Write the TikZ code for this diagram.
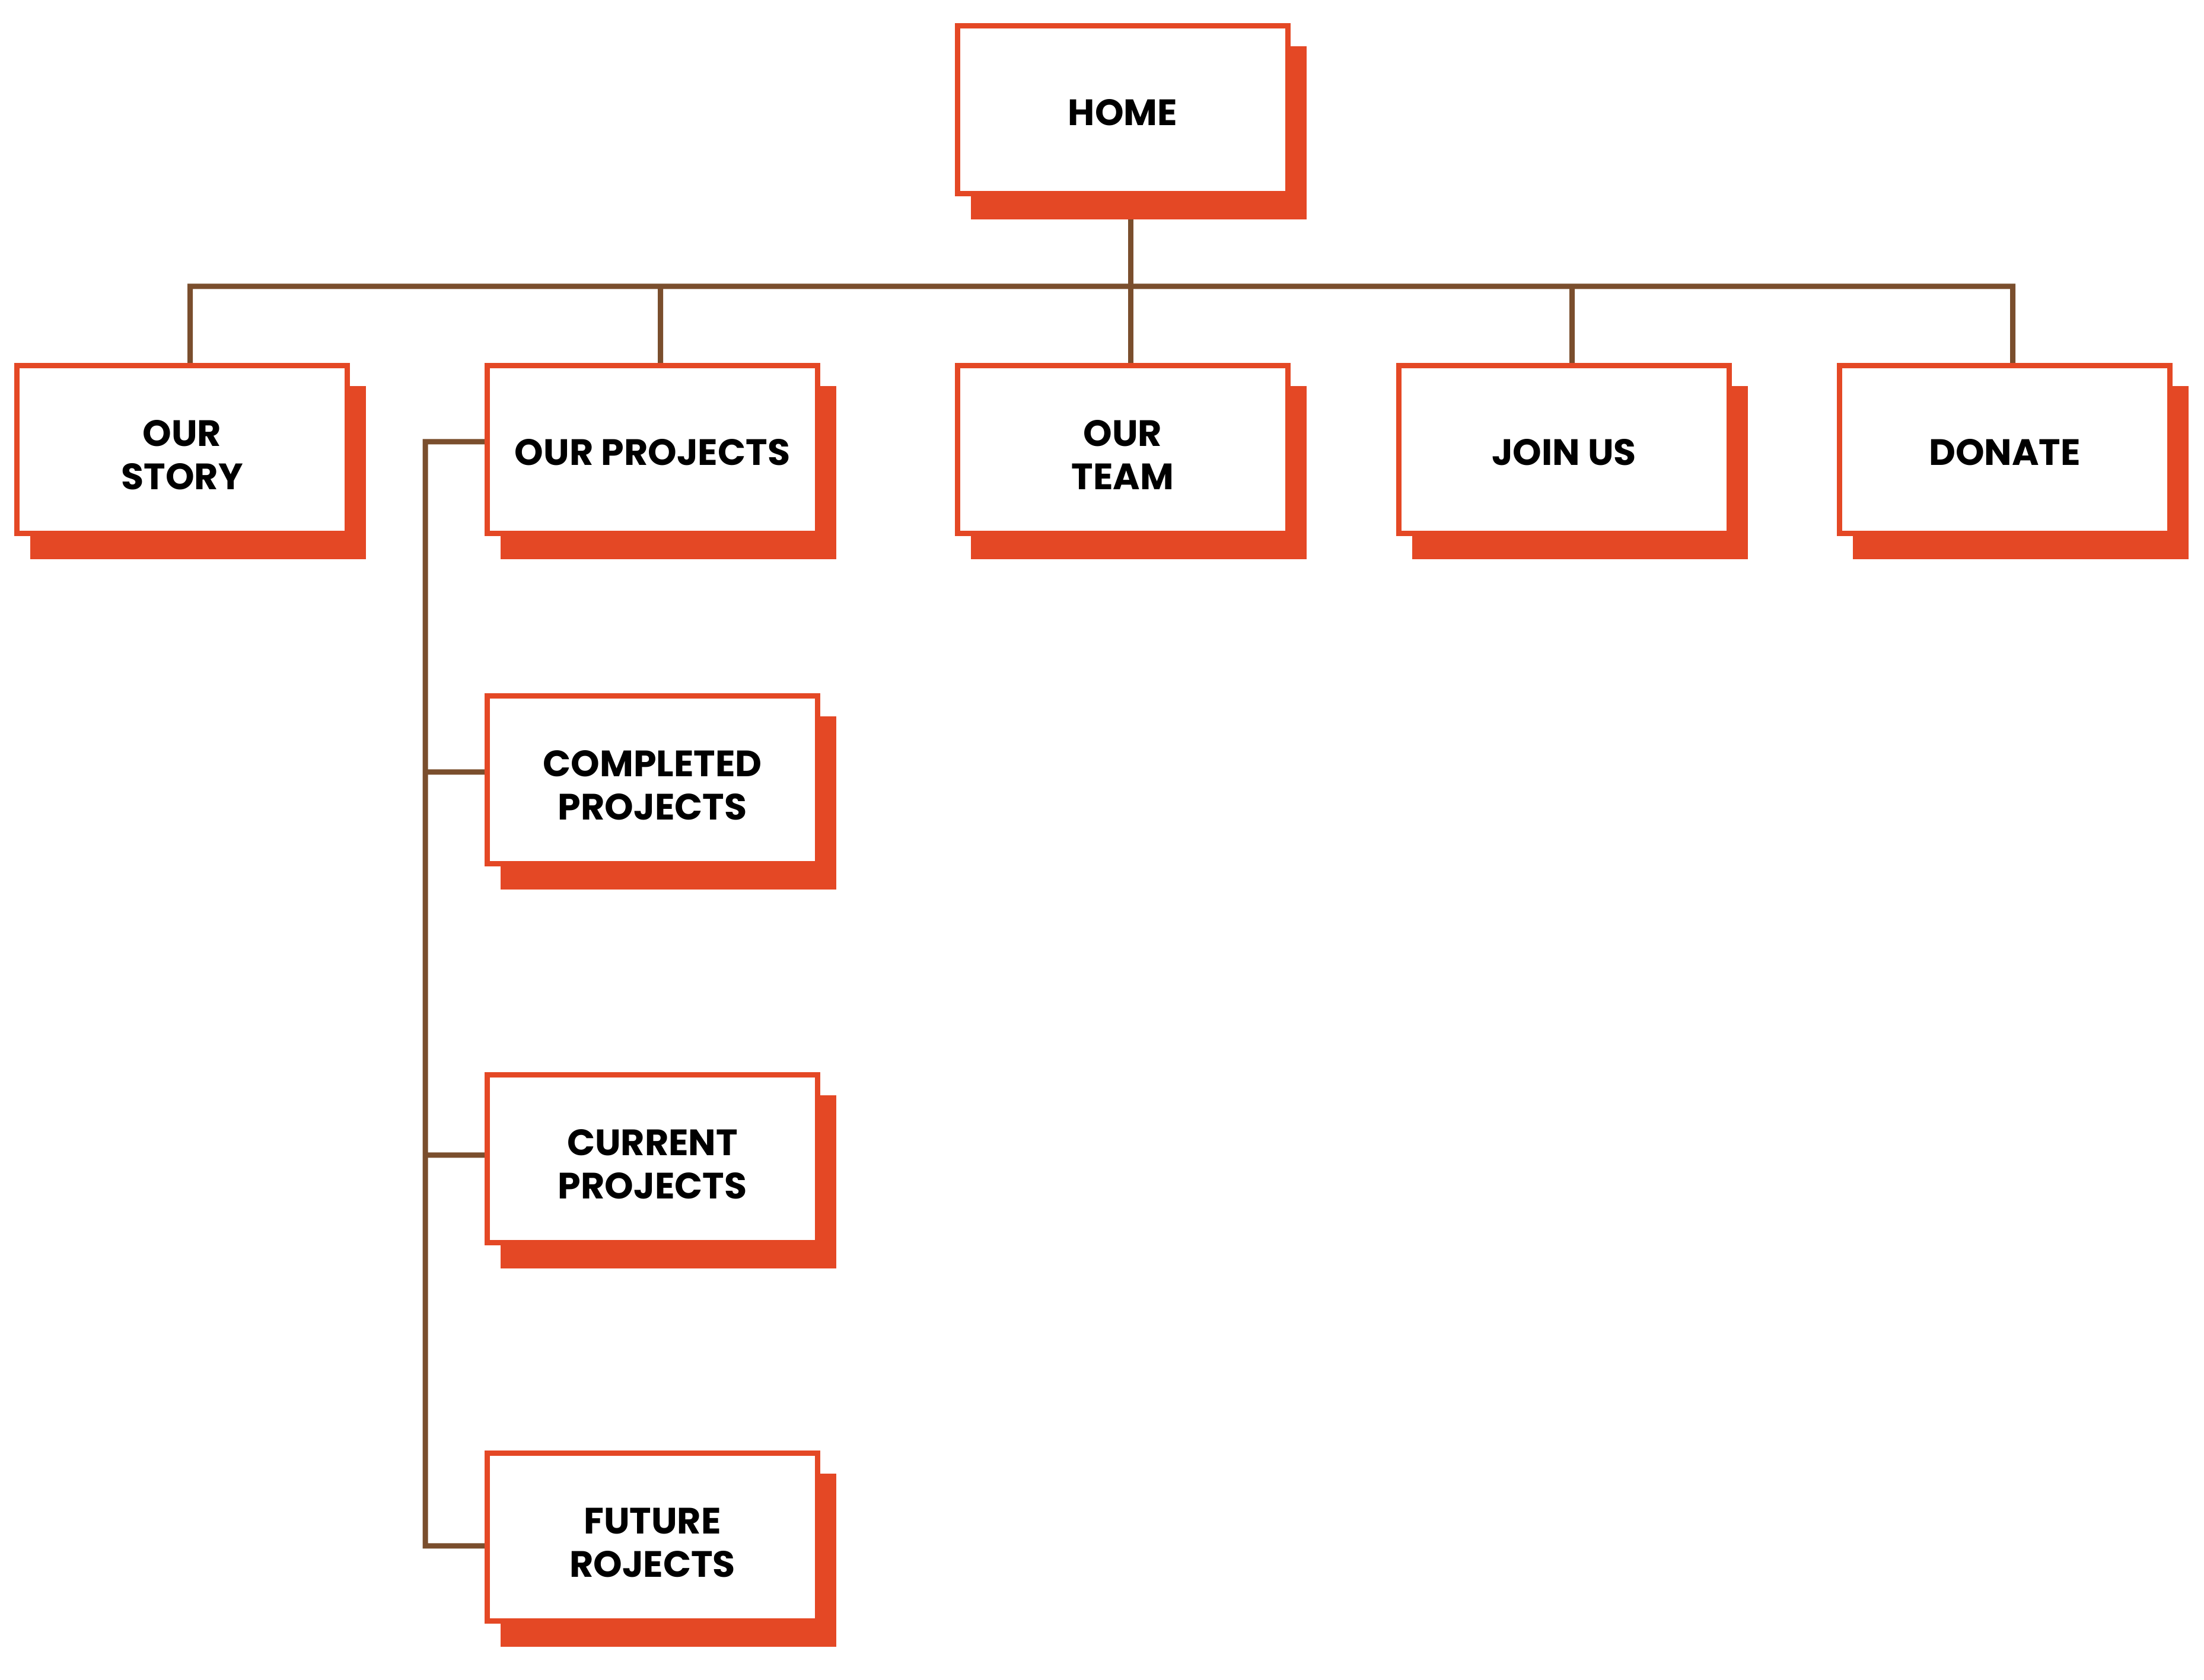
\documentclass[tikz,border=0pt]{standalone}
\usepackage{fontspec}
\setmainfont{Poppins}
\usetikzlibrary{calc,shadows,backgrounds}
\definecolor{pagered}{HTML}{E44825}
\definecolor{linkbrown}{HTML}{7A4E2D}
\tikzset{
	page/.style={draw=pagered, line width=0.09cm, fill=white, minimum width=5.57cm, minimum height=2.83cm, inner sep=0pt, align=center, font={\fontsize{17.6}{20.8}\selectfont\bfseries}, text height=0.53cm, text depth=0cm, drop shadow={shadow xshift=0.27cm, shadow yshift=-0.39cm, fill=pagered, draw=pagered, opacity=1}},
	twoline/.style={text height=1.35cm, text depth=0cm},
	link/.style={draw=linkbrown, line width=0.09cm}
}
\begin{document}
\begin{tikzpicture}
		%%%%% START %%%%%
		
		\useasboundingbox (0, 0) rectangle (37.16, 28.33);
		
		\node[page] (home) at (18.93, 26.48) {HOME};
		
		\node[page, twoline] (story) at (3.07, 20.75) {OUR\\STORY};
		\node[page] (projects) at (11.00, 20.75) {OUR PROJECTS};
		\node[page, twoline] (team) at (18.93, 20.75) {OUR\\TEAM};
		\node[page] (join) at (26.37, 20.75) {JOIN US};
		\node[page] (donate) at (33.80, 20.75) {DONATE};
		
		\node[page, twoline] (completed) at (11.00, 15.18) {COMPLETED\\PROJECTS};
		\node[page, twoline] (current) at (11.00, 8.79) {CURRENT\\PROJECTS};
		\node[page, twoline] (future) at (11.00, 2.41) {FUTURE\\ROJECTS};
		
		\coordinate (bus) at (0, 23.50);
		\coordinate (trunk) at (7.17, 0);
		
		\begin{pgfonlayer}{background}
			\draw[link] ([xshift=1.35mm]story.north) |- ($(donate.north |- bus)+(0.135, 0)$) -- ([xshift=1.35mm]donate.north);
			\foreach \n in {projects, join}
				\draw[link] ([xshift=1.35mm]\n.north) -- ($(\n.north |- bus)+(0.135, 0)$);
			\draw[link] ([xshift=1.35mm]home.south) -- ([xshift=1.35mm]team.north);
			
			\draw[link] ([yshift=1.3mm]projects.west) -| ($(trunk |- future.west)+(0, -0.15)$) -- ([yshift=-1.5mm]future.west);
			\draw[link] ([yshift=1.3mm]completed.west) -- ($(trunk |- completed.west)+(0, 0.13)$);
			\draw[link] ([yshift=0.6mm]current.west) -- ($(trunk |- current.west)+(0, 0.06)$);
		\end{pgfonlayer}
		
		%%%%% END %%%%%
\end{tikzpicture}
\end{document}
